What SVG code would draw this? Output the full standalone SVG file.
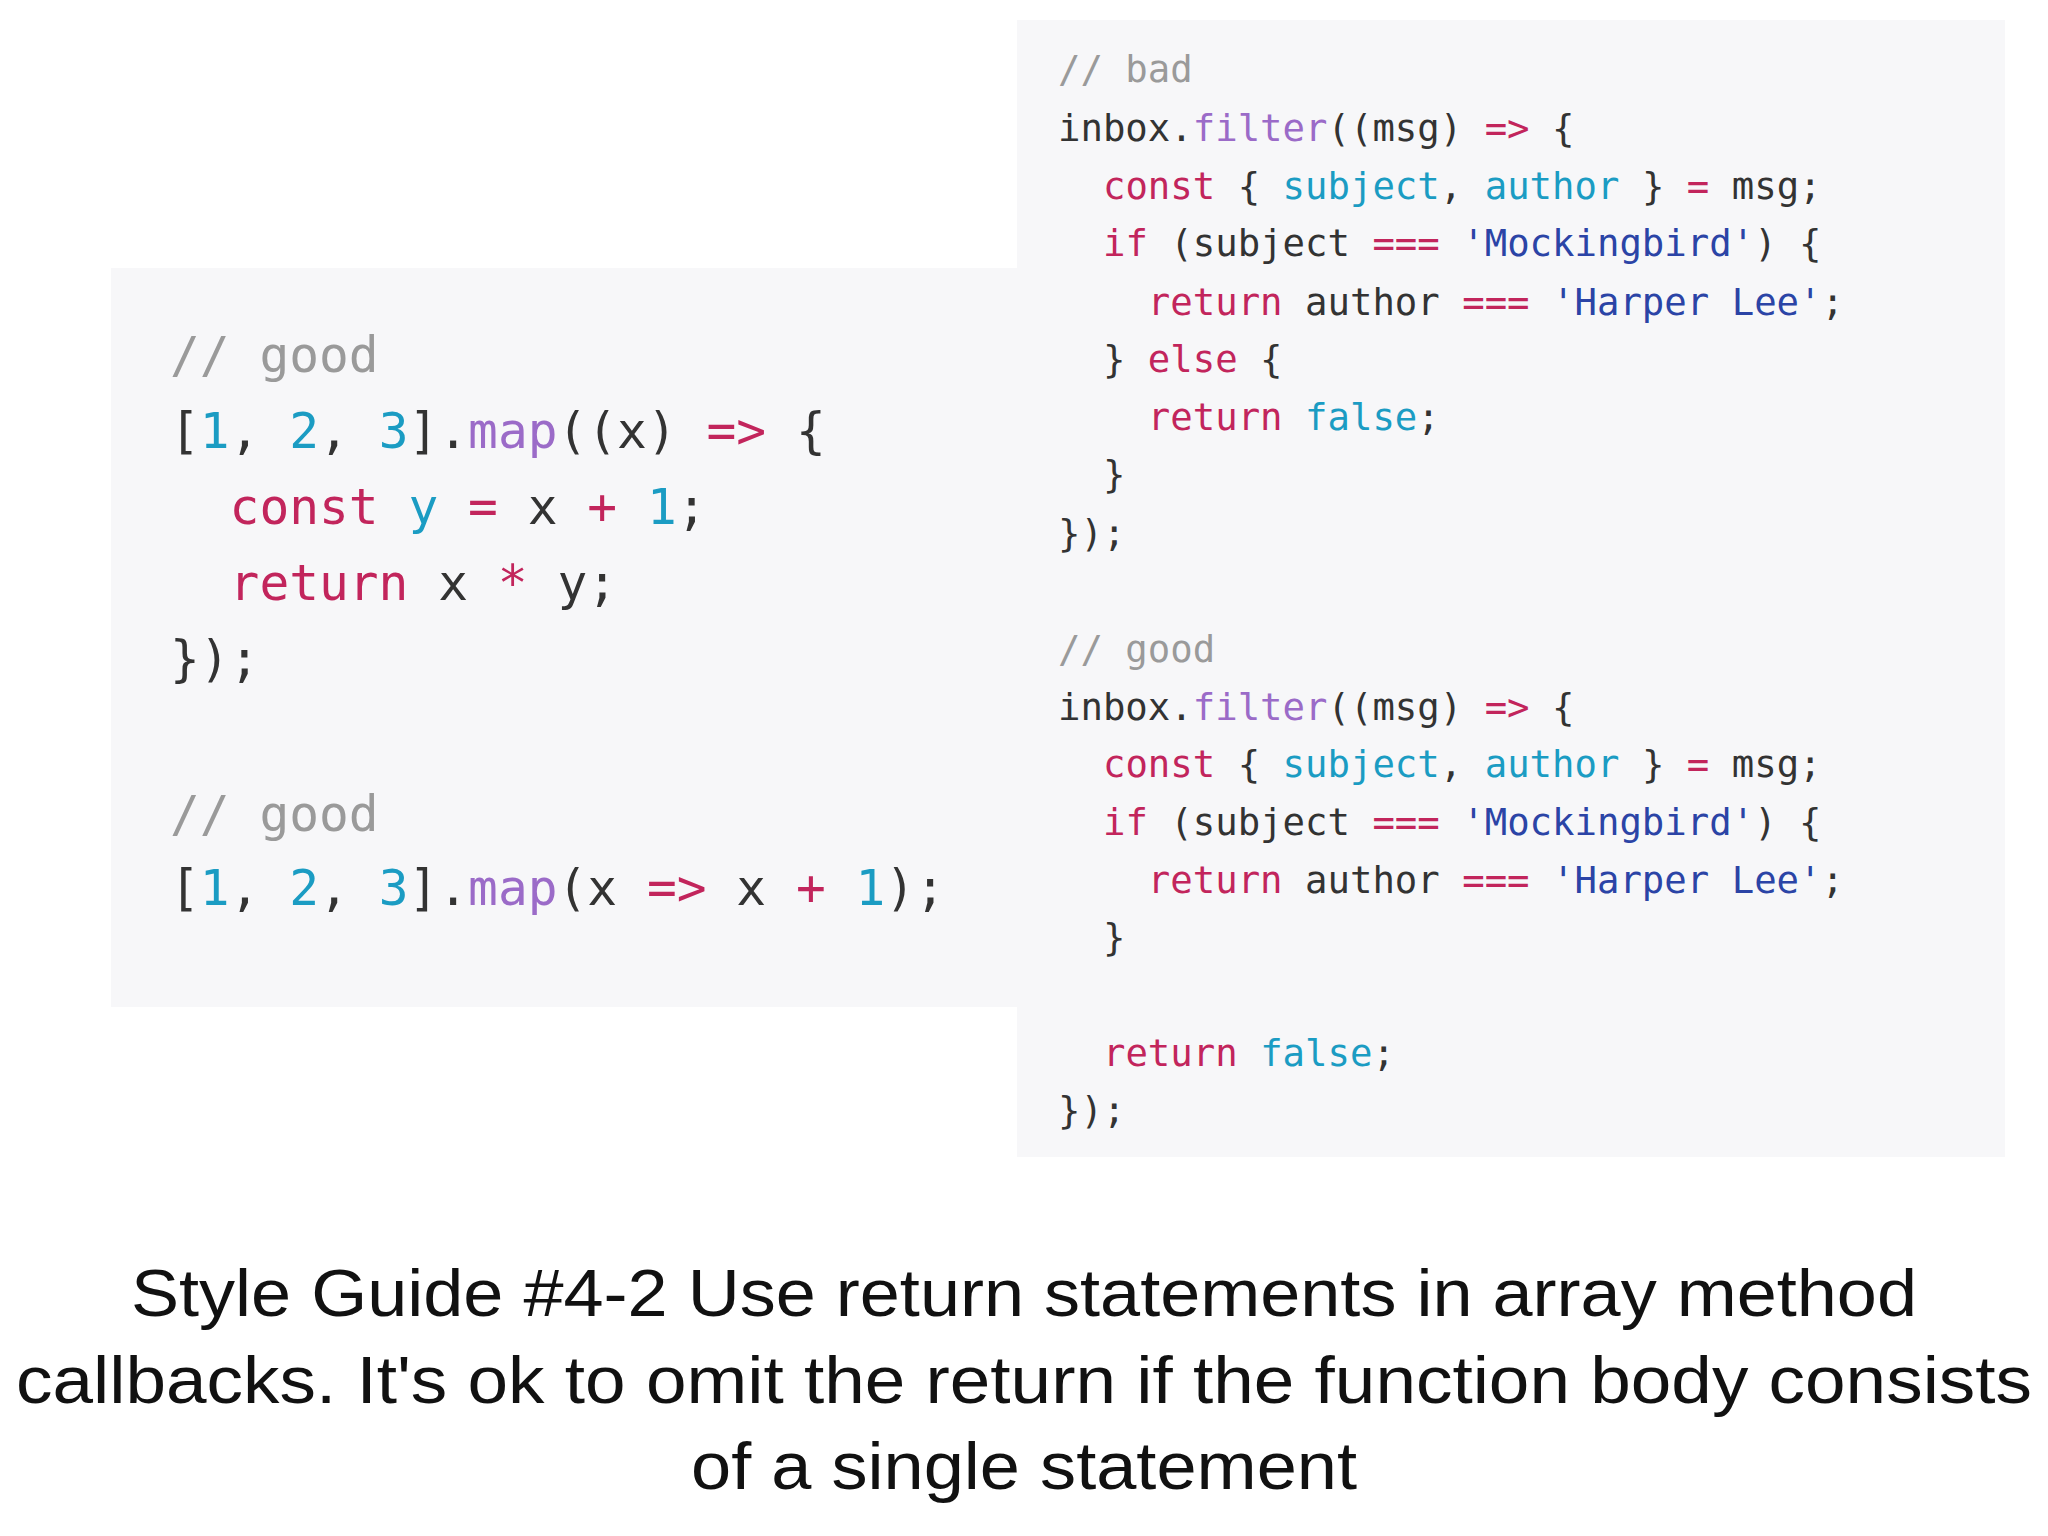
<svg xmlns="http://www.w3.org/2000/svg" width="2048" height="1536" viewBox="0 0 2048 1536">
<style>
.code{font-family:"DejaVu Sans Mono","Liberation Mono",monospace;fill:#333;white-space:pre}
.big{font-size:49.5px}
.sm{font-size:37.3px}
.c{fill:#9a9a9a}
.k{fill:#c2255c}
.f{fill:#9b6bc8}
.n{fill:#1b9cc3}
.s{fill:#2b44a6}
.cap{font-family:"Liberation Sans",Arial,sans-serif;font-size:66px;fill:#111;text-anchor:middle}
</style>
<rect width="2048" height="1536" fill="#fff"/>
<g id="left-panel">
<rect x="111" y="268" width="906" height="739" fill="#f7f7f9"/>
<text class="code big" xml:space="preserve"><tspan x="170" y="372" class="c">// good</tspan><tspan x="170" y="448">[<tspan class="n">1</tspan>, <tspan class="n">2</tspan>, <tspan class="n">3</tspan>].<tspan class="f">map</tspan>((x) <tspan class="k">=&gt;</tspan> {</tspan><tspan x="170" y="524">  <tspan class="k">const</tspan> <tspan class="n">y</tspan> <tspan class="k">=</tspan> x <tspan class="k">+</tspan> <tspan class="n">1</tspan>;</tspan><tspan x="170" y="600">  <tspan class="k">return</tspan> x <tspan class="k">*</tspan> y;</tspan><tspan x="170" y="676">});</tspan><tspan x="170" y="831" class="c">// good</tspan><tspan x="170" y="905">[<tspan class="n">1</tspan>, <tspan class="n">2</tspan>, <tspan class="n">3</tspan>].<tspan class="f">map</tspan>(x <tspan class="k">=&gt;</tspan> x <tspan class="k">+</tspan> <tspan class="n">1</tspan>);</tspan></text>
</g>
<g id="right-panel">
<rect x="1017" y="20" width="988" height="1137" fill="#f7f7f9"/>
<text class="code sm" xml:space="preserve"><tspan x="1058" y="82" class="c">// bad</tspan><tspan x="1058" y="141">inbox.<tspan class="f">filter</tspan>((msg) <tspan class="k">=&gt;</tspan> {</tspan><tspan x="1058" y="199">  <tspan class="k">const</tspan> { <tspan class="n">subject</tspan>, <tspan class="n">author</tspan> } <tspan class="k">=</tspan> msg;</tspan><tspan x="1058" y="256">  <tspan class="k">if</tspan> (subject <tspan class="k">===</tspan> <tspan class="s">'Mockingbird'</tspan>) {</tspan><tspan x="1058" y="315">    <tspan class="k">return</tspan> author <tspan class="k">===</tspan> <tspan class="s">'Harper Lee'</tspan>;</tspan><tspan x="1058" y="372">  } <tspan class="k">else</tspan> {</tspan><tspan x="1058" y="430">    <tspan class="k">return</tspan> <tspan class="n">false</tspan>;</tspan><tspan x="1058" y="487">  }</tspan><tspan x="1058" y="546">});</tspan><tspan x="1058" y="662" class="c">// good</tspan><tspan x="1058" y="720">inbox.<tspan class="f">filter</tspan>((msg) <tspan class="k">=&gt;</tspan> {</tspan><tspan x="1058" y="777">  <tspan class="k">const</tspan> { <tspan class="n">subject</tspan>, <tspan class="n">author</tspan> } <tspan class="k">=</tspan> msg;</tspan><tspan x="1058" y="835">  <tspan class="k">if</tspan> (subject <tspan class="k">===</tspan> <tspan class="s">'Mockingbird'</tspan>) {</tspan><tspan x="1058" y="893">    <tspan class="k">return</tspan> author <tspan class="k">===</tspan> <tspan class="s">'Harper Lee'</tspan>;</tspan><tspan x="1058" y="950">  }</tspan><tspan x="1058" y="1066">  <tspan class="k">return</tspan> <tspan class="n">false</tspan>;</tspan><tspan x="1058" y="1123">});</tspan></text>
</g>
<g id="caption">
<text class="cap" x="1024" y="1316" textLength="1786" lengthAdjust="spacingAndGlyphs">Style Guide #4-2 Use return statements in array method</text>
<text class="cap" x="1024" y="1403" textLength="2016" lengthAdjust="spacingAndGlyphs">callbacks. It's ok to omit the return if the function body consists</text>
<text class="cap" x="1024" y="1489" textLength="666" lengthAdjust="spacingAndGlyphs">of a single statement</text>
</g>
</svg>
